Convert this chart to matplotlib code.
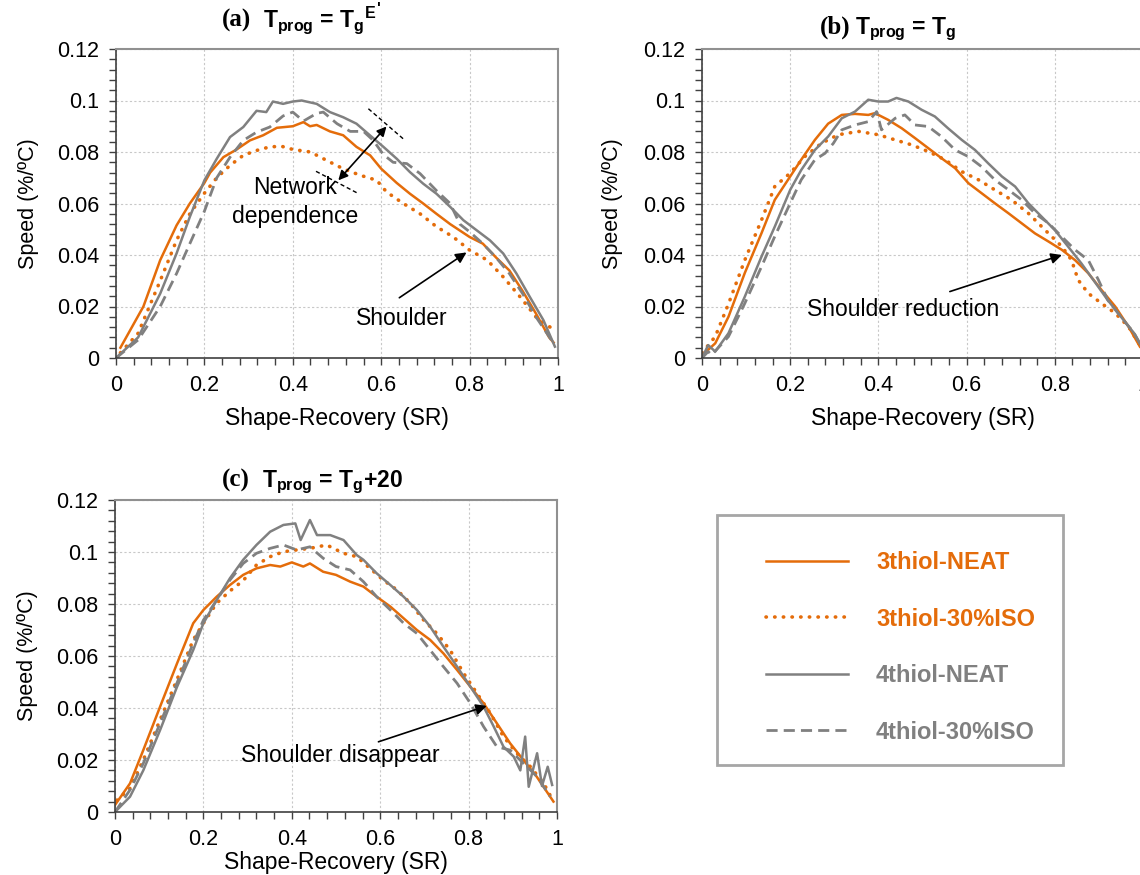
import matplotlib
matplotlib.use("Agg")
import matplotlib.pyplot as plt
from matplotlib.patches import Rectangle
from matplotlib.ticker import MultipleLocator, FixedLocator, FixedFormatter

plt.rcParams['font.family'] = ['Liberation Sans', 'DejaVu Sans']
plt.rcParams['mathtext.fontset'] = 'custom'
plt.rcParams['mathtext.rm'] = 'Liberation Sans'
plt.rcParams['mathtext.bf'] = 'Liberation Sans:bold'
plt.rcParams['mathtext.it'] = 'Liberation Sans:italic'

# ---------------- data ----------------
series_labels = ["3thiol-NEAT", "3thiol-30%ISO", "4thiol-NEAT", "4thiol-30%ISO"]

# panel (a)  T_prog = T_g^E'
a_x_3n = [0.01, 0.062, 0.1, 0.122, 0.137, 0.167, 0.2, 0.213, 0.243, 0.273, 0.303, 0.333, 0.364, 0.4, 0.424,
          0.439, 0.454, 0.484, 0.514, 0.544, 0.575, 0.6, 0.635, 0.665, 0.695, 0.725, 0.756, 0.8, 0.83, 0.86,
          0.89, 0.92, 0.95, 0.98, 0.99]
a_y_3n = [0.004, 0.020, 0.038, 0.046, 0.0515, 0.060, 0.068, 0.072, 0.078, 0.081, 0.0845, 0.0865, 0.0894, 0.090,
          0.0916, 0.090, 0.0905, 0.088, 0.0865, 0.082, 0.0787, 0.0735, 0.068, 0.0638, 0.060, 0.056, 0.052, 0.047,
          0.0444, 0.039, 0.034, 0.026, 0.0173, 0.008, 0.006]
a_x_3i = [0.01, 0.05, 0.1, 0.137, 0.167, 0.2, 0.228, 0.258, 0.288, 0.318, 0.348, 0.375, 0.4, 0.44, 0.477, 0.514,
          0.552, 0.59, 0.612, 0.65, 0.688, 0.725, 0.763, 0.8, 0.84, 0.876, 0.914, 0.95, 0.99]
a_y_3i = [0.002, 0.0096, 0.030, 0.0457, 0.056, 0.064, 0.070, 0.0748, 0.0787, 0.0806, 0.082, 0.0822, 0.081, 0.080,
          0.0767, 0.0735, 0.071, 0.069, 0.0645, 0.060, 0.056, 0.051, 0.047, 0.0419, 0.038, 0.0315, 0.0238, 0.016,
          0.011]
a_x_4n = [0.0, 0.05, 0.1, 0.137, 0.167, 0.2, 0.228, 0.258, 0.288, 0.318, 0.34, 0.355, 0.378, 0.4, 0.42, 0.454,
          0.484, 0.514, 0.544, 0.575, 0.605, 0.635, 0.665, 0.695, 0.725, 0.756, 0.786, 0.816, 0.846, 0.876, 0.906,
          0.936, 0.967, 0.993]
a_y_4n = [0.0, 0.008, 0.025, 0.0406, 0.0548, 0.069, 0.0774, 0.0858, 0.0897, 0.096, 0.0955, 0.0996, 0.0987, 0.0996,
          0.100, 0.0987, 0.0955, 0.0935, 0.091, 0.0864, 0.082, 0.0774, 0.0722, 0.0677, 0.0638, 0.0587, 0.0535,
          0.0496, 0.0457, 0.0406, 0.0328, 0.0238, 0.0147, 0.0044]
a_x_4i = [0.0, 0.05, 0.1, 0.137, 0.167, 0.2, 0.228, 0.258, 0.288, 0.318, 0.348, 0.378, 0.4, 0.424, 0.454, 0.469,
          0.5, 0.53, 0.56, 0.582, 0.605, 0.627, 0.658, 0.688, 0.725, 0.756, 0.778, 0.8, 0.83, 0.86, 0.89, 0.92,
          0.95, 0.99]
a_y_4i = [0.0, 0.007, 0.020, 0.0328, 0.0444, 0.057, 0.070, 0.078, 0.0845, 0.0877, 0.0897, 0.094, 0.0955, 0.092,
          0.095, 0.0955, 0.091, 0.088, 0.088, 0.0845, 0.079, 0.076, 0.0755, 0.0716, 0.065, 0.060, 0.052, 0.049,
          0.0444, 0.039, 0.0328, 0.025, 0.016, 0.0057]

# panel (b)  T_prog = T_g
b_x_3n = [0.0, 0.03, 0.06, 0.097, 0.135, 0.165, 0.2, 0.225, 0.256, 0.286, 0.317, 0.347, 0.377, 0.39, 0.4, 0.422,
          0.453, 0.483, 0.513, 0.543, 0.574, 0.604, 0.634, 0.664, 0.695, 0.725, 0.755, 0.786, 0.816, 0.846, 0.876,
          0.906, 0.937, 0.967, 0.993]
b_y_3n = [0.001, 0.0057, 0.016, 0.033, 0.0485, 0.0614, 0.0705, 0.077, 0.0847, 0.091, 0.0944, 0.0948, 0.0944,
          0.095, 0.0944, 0.0925, 0.0892, 0.0854, 0.0815, 0.0776, 0.0737, 0.0679, 0.064, 0.0601, 0.0562, 0.0523,
          0.0484, 0.0452, 0.042, 0.038, 0.0329, 0.0264, 0.020, 0.0122, 0.0044]
b_x_3i = [0.0, 0.03, 0.06, 0.097, 0.135, 0.165, 0.2, 0.233, 0.271, 0.309, 0.355, 0.4, 0.438, 0.475, 0.513, 0.551,
          0.589, 0.627, 0.664, 0.702, 0.74, 0.778, 0.816, 0.838, 0.853, 0.876, 0.906, 0.937, 0.967, 0.993]
b_y_3i = [0.002, 0.0083, 0.021, 0.038, 0.0536, 0.0666, 0.0718, 0.0782, 0.0834, 0.0867, 0.088, 0.0867, 0.0847,
          0.0828, 0.0802, 0.077, 0.0724, 0.0692, 0.0653, 0.0614, 0.0562, 0.0497, 0.0433, 0.038, 0.0303, 0.0251,
          0.0212, 0.0174, 0.0122, 0.005]
b_x_4n = [0.0, 0.014, 0.03, 0.06, 0.097, 0.135, 0.165, 0.2, 0.225, 0.256, 0.286, 0.317, 0.347, 0.377, 0.4, 0.422,
          0.441, 0.468, 0.498, 0.528, 0.558, 0.589, 0.619, 0.649, 0.68, 0.71, 0.74, 0.77, 0.8, 0.83, 0.86, 0.89,
          0.92, 0.95, 0.98, 0.995]
b_y_4n = [0.0, 0.005, 0.0025, 0.0096, 0.0238, 0.0394, 0.051, 0.0653, 0.073, 0.0808, 0.086, 0.0931, 0.0957, 0.1003,
          0.0996, 0.0996, 0.101, 0.0996, 0.0964, 0.0938, 0.0892, 0.0847, 0.0808, 0.0756, 0.0705, 0.0666, 0.0601,
          0.0549, 0.0497, 0.0433, 0.0368, 0.0297, 0.0225, 0.016, 0.0096, 0.005]
b_x_4i = [0.0, 0.014, 0.022, 0.06, 0.097, 0.135, 0.165, 0.2, 0.225, 0.256, 0.279, 0.298, 0.317, 0.347, 0.377,
          0.396, 0.407, 0.438, 0.46, 0.483, 0.513, 0.543, 0.574, 0.604, 0.634, 0.664, 0.695, 0.725, 0.755, 0.786,
          0.816, 0.846, 0.876, 0.899, 0.92, 0.95, 0.98, 0.995]
b_y_4i = [0.0, 0.0025, 0.0012, 0.0083, 0.0212, 0.0355, 0.0472, 0.0601, 0.0692, 0.077, 0.0795, 0.0834, 0.0886,
          0.0905, 0.0918, 0.0957, 0.0886, 0.0931, 0.0944, 0.0905, 0.0899, 0.086, 0.0808, 0.0782, 0.0743, 0.0692,
          0.0653, 0.0614, 0.0562, 0.0523, 0.0471, 0.042, 0.038, 0.0303, 0.0225, 0.016, 0.0096, 0.005]

# panel (c)  T_prog = T_g+20
c_x_3n = [0.0, 0.034, 0.064, 0.102, 0.14, 0.177, 0.2, 0.23, 0.26, 0.29, 0.32, 0.351, 0.374, 0.4, 0.426, 0.441,
          0.471, 0.5, 0.532, 0.562, 0.592, 0.623, 0.653, 0.683, 0.713, 0.743, 0.774, 0.804, 0.834, 0.864, 0.894,
          0.924, 0.954, 0.992]
c_y_3n = [0.0027, 0.011, 0.0238, 0.0405, 0.057, 0.0726, 0.0777, 0.0828, 0.0873, 0.0912, 0.0937, 0.095, 0.0944,
          0.096, 0.0944, 0.0956, 0.0924, 0.0912, 0.0886, 0.0867, 0.0828, 0.079, 0.0745, 0.070, 0.0662, 0.061,
          0.0546, 0.0482, 0.0418, 0.0341, 0.0264, 0.020, 0.0136, 0.004]
c_x_3i = [0.004, 0.034, 0.064, 0.102, 0.14, 0.177, 0.2, 0.23, 0.26, 0.29, 0.32, 0.351, 0.381, 0.411, 0.441, 0.479,
          0.517, 0.547, 0.577, 0.607, 0.638, 0.668, 0.698, 0.728, 0.758, 0.789, 0.819, 0.849, 0.879, 0.909, 0.94,
          0.97, 0.992]
c_y_3i = [0.0045, 0.0091, 0.020, 0.0354, 0.0508, 0.0662, 0.0726, 0.0803, 0.085, 0.089, 0.095, 0.0982, 0.1001,
          0.1008, 0.1014, 0.1027, 0.0995, 0.0982, 0.0937, 0.0892, 0.0854, 0.0803, 0.0739, 0.0687, 0.0623, 0.0533,
          0.0456, 0.038, 0.029, 0.0226, 0.0174, 0.011, 0.004]
c_x_4n = [0.0, 0.034, 0.064, 0.102, 0.14, 0.177, 0.2, 0.23, 0.26, 0.29, 0.32, 0.351, 0.381, 0.408, 0.42, 0.441,
          0.457, 0.487, 0.517, 0.547, 0.562, 0.592, 0.623, 0.653, 0.683, 0.713, 0.743, 0.774, 0.804, 0.834, 0.857,
          0.879, 0.902, 0.917, 0.928, 0.936, 0.955, 0.966, 0.979, 0.989]
c_y_4n = [0.0, 0.0059, 0.016, 0.0315, 0.048, 0.0623, 0.0726, 0.0815, 0.0899, 0.097, 0.1027, 0.1078, 0.1104,
          0.111, 0.1046, 0.1123, 0.1065, 0.1065, 0.1046, 0.0988, 0.097, 0.0918, 0.0873, 0.0828, 0.0777, 0.0713,
          0.0636, 0.0559, 0.0482, 0.0405, 0.0328, 0.0251, 0.0213, 0.016, 0.029, 0.0097, 0.0226, 0.010, 0.0174,
          0.0104]
c_x_4i = [0.0, 0.034, 0.064, 0.102, 0.14, 0.177, 0.2, 0.23, 0.26, 0.29, 0.32, 0.351, 0.381, 0.411, 0.441, 0.471,
          0.5, 0.532, 0.562, 0.592, 0.623, 0.653, 0.683, 0.713, 0.743, 0.774, 0.804, 0.834, 0.864, 0.894, 0.924,
          0.955, 0.985]
c_y_4i = [0.0, 0.0085, 0.0187, 0.0341, 0.0495, 0.0649, 0.0738, 0.0815, 0.0892, 0.0956, 0.0995, 0.1014, 0.1027,
          0.1008, 0.102, 0.0976, 0.0944, 0.0931, 0.0886, 0.0828, 0.0777, 0.0726, 0.0687, 0.0623, 0.0559, 0.0495,
          0.0418, 0.0328, 0.0251, 0.0238, 0.0187, 0.0136, 0.0059]

x_tick_labels = ["0", "0.2", "0.4", "0.6", "0.8", "1"]
y_tick_labels = ["0", "0.02", "0.04", "0.06", "0.08", "0.1", "0.12"]

panel_tags = ["(a)", "(b)", "(c)"]
panel_titles = [r"T$_\mathbf{prog}$ = T$_\mathbf{g}$$^\mathbf{E}$",
                r"T$_\mathbf{prog}$ = T$_\mathbf{g}$",
                r"T$_\mathbf{prog}$ = T$_\mathbf{g}$+20"]
xlabel = "Shape-Recovery (SR)"
ylabel = "Speed (%/ºC)"

# ---------------- style ----------------
ORANGE = "#E46C0A"
GRAY = "#808080"
styles = [dict(color=ORANGE, ls="-", lw=1.8),
          dict(color=ORANGE, ls=(0, (0.1, 2.3)), lw=2.6, dash_capstyle="round"),
          dict(color=GRAY, ls="-", lw=1.8),
          dict(color=GRAY, ls=(0, (4, 2.2)), lw=2.0)]

W, H = 1140, 875
fig = plt.figure(figsize=(W / 100, H / 100), dpi=100)

def fig_rect(left, top, right, bottom):
    return [left / W, 1 - bottom / H, (right - left) / W, (bottom - top) / H]

ax_a = fig.add_axes(fig_rect(116, 49, 558, 358))
ax_b = fig.add_axes(fig_rect(702, 49, 1143, 358))
ax_c = fig.add_axes(fig_rect(115, 500, 557, 812))

panels = [
    (ax_a, [(a_x_3n, a_y_3n), (a_x_3i, a_y_3i), (a_x_4n, a_y_4n), (a_x_4i, a_y_4i)]),
    (ax_b, [(b_x_3n, b_y_3n), (b_x_3i, b_y_3i), (b_x_4n, b_y_4n), (b_x_4i, b_y_4i)]),
    (ax_c, [(c_x_3n, c_y_3n), (c_x_3i, c_y_3i), (c_x_4n, c_y_4n), (c_x_4i, c_y_4i)]),
]

handles = None
for ax, data in panels:
    hs = []
    for (xs, ys), st, lab in zip(data, styles, series_labels):
        h, = ax.plot(xs, ys, label=lab, solid_joinstyle="round", **st)
        hs.append(h)
    if handles is None:
        handles = hs
    ax.set_xlim(0, 1)
    ax.set_ylim(0, 0.12)
    ax.xaxis.set_major_locator(FixedLocator([0, 0.2, 0.4, 0.6, 0.8, 1.0]))
    ax.xaxis.set_major_formatter(FixedFormatter(x_tick_labels))
    ax.xaxis.set_minor_locator(MultipleLocator(0.04))
    ax.yaxis.set_major_locator(FixedLocator([0, 0.02, 0.04, 0.06, 0.08, 0.1, 0.12]))
    ax.yaxis.set_major_formatter(FixedFormatter(y_tick_labels))
    ax.yaxis.set_minor_locator(MultipleLocator(0.004))
    ax.tick_params(which="both", direction="out", length=5, width=1, color="#404040")
    ax.tick_params(which="major", labelsize=15.5, pad=7)
    ax.grid(True, which="major", color="#c8c8c8", ls=(0, (2, 2)), lw=0.8)
    ax.set_axisbelow(True)
    for s in ("left", "bottom"):
        ax.spines[s].set_color("#404040")
        ax.spines[s].set_linewidth(1.2)
    for s in ("top", "right"):
        ax.spines[s].set_color("#909090")
        ax.spines[s].set_linewidth(1.5)
    ax.set_xlabel(xlabel, fontsize=16.5)
    ax.set_ylabel(ylabel, fontsize=15.5)

ax_a.yaxis.set_label_coords(-0.174, 0.5)
ax_b.yaxis.set_label_coords(-0.179, 0.5)
ax_c.yaxis.set_label_coords(-0.174, 0.5)
ax_a.xaxis.set_label_coords(0.5, -0.160)
ax_b.xaxis.set_label_coords(0.5, -0.160)
ax_c.xaxis.set_label_coords(0.5, -0.125)

# titles
title_pos = [(222, 263, 27), (820, 855, 34), (222, 262, 487)]
for tag, title, (xt, xm, yb) in zip(panel_tags, panel_titles, title_pos):
    fig.text(xt / W, 1 - yb / H, tag, family="Liberation Serif", weight="bold", fontsize=18,
             ha="left", va="baseline")
    t = fig.text(xm / W, 1 - yb / H, title, weight="bold", fontsize=16.5, ha="left", va="baseline")
    if tag == "(a)":
        fig.canvas.draw()
        bb = t.get_window_extent()
        fig.text(bb.x1 / W + 0.5 / W, 1 - (yb - 13) / H, "'", weight="bold", fontsize=11.5,
                 ha="left", va="baseline")

# annotations
ann_fs = 16.5
ax_a.annotate("", xy=(0.612, 0.0899), xytext=(0.503, 0.069),
              arrowprops=dict(arrowstyle="<|-|>", color="black", lw=1.2, mutation_scale=14,
                              shrinkA=0, shrinkB=0))
ax_a.plot([0.571, 0.650], [0.0968, 0.0851], color="black", lw=1, ls=(0, (3, 2)))
ax_a.plot([0.4525, 0.5445], [0.0725, 0.0642], color="black", lw=1, ls=(0, (3, 2)))
ax_a.text(0.405, 0.0606, "Network\ndependence", fontsize=ann_fs, ha="center", va="center",
          linespacing=1.3)
ax_a.text(0.646, 0.0155, "Shoulder", fontsize=ann_fs, ha="center", va="center")
ax_a.annotate("", xy=(0.793, 0.041), xytext=(0.641, 0.0234),
              arrowprops=dict(arrowstyle="-|>", color="black", lw=1.2, mutation_scale=16,
                              shrinkA=0, shrinkB=0))

ax_b.text(0.457, 0.0187, "Shoulder reduction", fontsize=ann_fs, ha="center", va="center")
ax_b.annotate("", xy=(0.816, 0.040), xytext=(0.562, 0.0258),
              arrowprops=dict(arrowstyle="-|>", color="black", lw=1.2, mutation_scale=16,
                              shrinkA=0, shrinkB=0))

ax_c.text(0.509, 0.0219, "Shoulder disappear", fontsize=ann_fs, ha="center", va="center")
ax_c.annotate("", xy=(0.841, 0.0408), xytext=(0.596, 0.027),
              arrowprops=dict(arrowstyle="-|>", color="black", lw=1.2, mutation_scale=16,
                              shrinkA=0, shrinkB=0))

# legend
leg_fs = 17
fig.add_artist(Rectangle((717 / W, 1 - 765 / H), 346 / W, 250 / H, transform=fig.transFigure,
                         fill=False, edgecolor="#a6a6a6", lw=2))
leg = fig.legend(handles, series_labels, loc="upper left", bbox_to_anchor=(766 / W, 1 - 551 / H),
                 frameon=False, prop=dict(family="Liberation Sans", weight="bold", size=leg_fs),
                 handlelength=3.47, handletextpad=1.19, labelspacing=1.42, borderpad=0,
                 borderaxespad=0, labelcolor="linecolor")

fig.savefig("out.png", dpi=100)
